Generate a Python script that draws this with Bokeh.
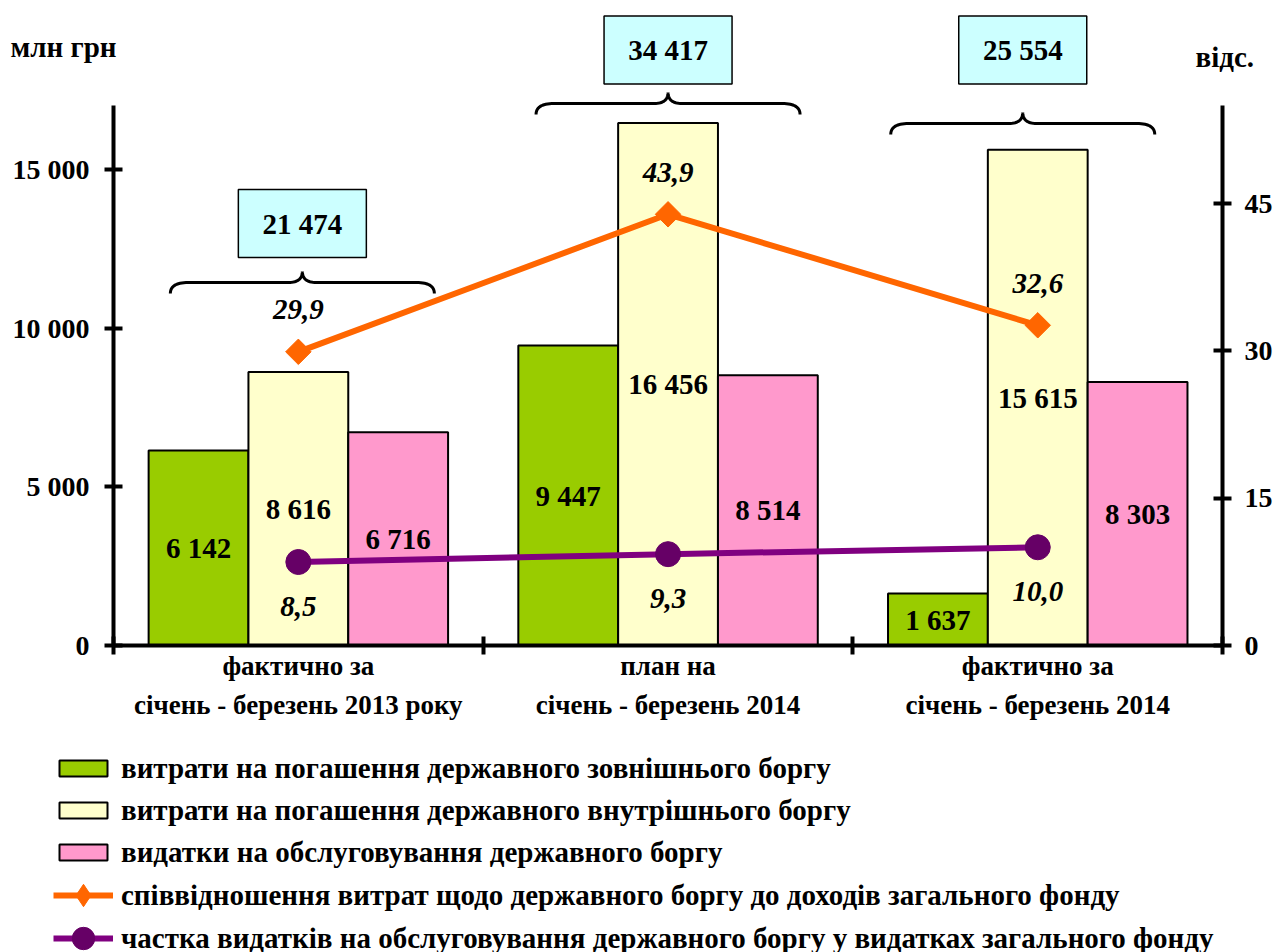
import numpy as np
from bokeh.plotting import figure
from bokeh.models import Range1d, LinearAxis, FixedTicker, Legend, LegendItem
from bokeh.core.properties import value
from bokeh.embed import file_html
from bokeh.resources import INLINE

# ---------------- data ----------------
periods = ["фактично за\nсічень - березень 2013 року",
           "план на\nсічень - березень 2014",
           "фактично за\nсічень - березень 2014"]
external_debt = [6142, 9447, 1637]
internal_debt = [8616, 16456, 15615]
debt_service = [6716, 8514, 8303]
totals = [21474, 34417, 25554]
ratio_to_revenue = [29.9, 43.9, 32.6]
service_share = [8.5, 9.3, 10.0]
left_ticks = [0, 5000, 10000, 15000]
right_ticks = [0, 15, 30, 45]
series_names = ["витрати на погашення державного зовнішнього боргу",
                "витрати на погашення державного внутрішнього боргу",
                "видатки на обслуговування державного боргу",
                "співвідношення витрат щодо державного боргу до доходів загального фонду",
                "частка видатків на обслуговування державного боргу у видатках загального фонду"]
unit_left = "млн грн"
unit_right = "відс."

# ---------------- geometry (page pixels) ----------------
FONT = "Liberation Serif"
W, H = 1277, 952
M = 0                      # offset of the canvas in the picture
X0 = 113.0                 # page x of category 0
UX = 369.7                 # px per category
Y0 = 645.0                 # page y of value 0
PYL = 0.03175              # px per left unit
PYR = 442.0 / 45.0         # px per right unit

x_start = (M - X0) / UX
x_end = (M + W - X0) / UX
yl_end = (Y0 - M) / PYL
yl_start = (Y0 - M - H) / PYL
yr_end = (Y0 - M) / PYR
yr_start = (Y0 - M - H) / PYR

LEFT_BOUND = 17000
RIGHT_BOUND = LEFT_BOUND * PYL / PYR
BAR_W = 0.27

def px_x(xp):   # page x -> data x
    return (xp - X0) / UX

def px_y(yp):   # page y -> left data y
    return (Y0 - yp) / PYL

BRACE_Y = [px_y(282), px_y(103), px_y(123)]
BOX_Y = [px_y(223), px_y(49.5), px_y(49.5)]
ANNOT_DX = [4 / UX, 0.0, -15 / UX]    # horizontal shift of braces/boxes

def fmt(v):
    return f"{v:,}".replace(",", " ")

def fmt_dec(v):
    return f"{v:.1f}".replace(".", ",")

p = figure(width=W, height=H, x_range=Range1d(x_start, x_end), y_range=Range1d(yl_start, yl_end),
           output_backend="svg", toolbar_location=None,
           min_border_left=0, min_border_right=0, min_border_top=0, min_border_bottom=0)
p.extra_y_ranges = {"right": Range1d(yr_start, yr_end)}
p.outline_line_color = None
p.xgrid.visible = False
p.ygrid.visible = False
p.background_fill_color = "white"
p.border_fill_color = "white"

def style_axis(ax, size="28px"):
    ax.axis_line_width = 4
    ax.major_tick_line_width = 4
    ax.minor_tick_line_width = 4
    ax.major_label_text_font = FONT
    ax.major_label_text_font_style = "bold"
    ax.major_label_text_font_size = size
    ax.major_label_text_color = "black"

# left axis
ya = p.yaxis[0]
ya.fixed_location = 0
ya.ticker = FixedTicker(ticks=left_ticks)
ya.major_label_overrides = {t: fmt(t) for t in left_ticks}
ya.bounds = (0, LEFT_BOUND)
ya.major_tick_in = 9
ya.major_tick_out = 9
ya.minor_tick_line_color = None
ya.major_label_standoff = 15
style_axis(ya)

# right axis
ra = LinearAxis(y_range_name="right", ticker=FixedTicker(ticks=right_ticks), bounds=(0, RIGHT_BOUND))
ra.fixed_location = 3
ra.major_tick_in = 9
ra.major_tick_out = 9
ra.minor_tick_line_color = None
ra.major_label_standoff = 13
style_axis(ra)
p.add_layout(ra, "right")

# x axis
xa = p.xaxis[0]
xa.fixed_location = 0
xa.bounds = (0, 3)
centers = [i + 0.5 for i in range(len(periods))]
xa.ticker = FixedTicker(ticks=centers, minor_ticks=list(range(len(periods) + 1)))
xa.major_label_overrides = {c: lab for c, lab in zip(centers, periods)}
xa.major_tick_in = 0
xa.major_tick_out = 0
xa.minor_tick_in = 9
xa.minor_tick_out = 9
xa.major_label_standoff = -4
style_axis(xa, "27px")
xa.major_label_text_line_height = 1.3

# bars
cols = ["#99CC00", "#FFFFCC", "#FF99CC"]
bar_r = []
for k, (vals, col) in enumerate(zip([external_debt, internal_debt, debt_service], cols)):
    xs = [c + (k - 1) * BAR_W for c in centers]
    r = p.vbar(x=xs, top=vals, width=BAR_W, fill_color=col, line_color="black", line_width=2)
    bar_r.append(r)
    p.text(x=xs, y=[v / 2 for v in vals], text=[fmt(v) for v in vals],
           text_font=value(FONT), text_font_style="bold", text_font_size="29px",
           text_align="center", text_baseline="middle", text_color="black")

# lines
ol = p.line(centers, ratio_to_revenue, y_range_name="right", line_color="#FF6600", line_width=6)
om_leg = p.scatter(centers, ratio_to_revenue, y_range_name="right", marker="diamond",
                   size=18, fill_color="#FF6600", line_color="#FF6600")
om = p.scatter(centers, ratio_to_revenue, y_range_name="right", marker="square", angle=np.pi / 4,
               size=18, fill_color="#FF6600", line_color="#FF6600")
p.text(x=centers, y=ratio_to_revenue, y_range_name="right", y_offset=-42,
       text=[fmt_dec(v) for v in ratio_to_revenue], text_font=value(FONT),
       text_font_style="bold italic", text_font_size="29px", text_align="center",
       text_baseline="middle", text_color="black")

pl = p.line(centers, service_share, y_range_name="right", line_color="#800080", line_width=6)
pm = p.scatter(centers, service_share, y_range_name="right", marker="circle", size=25,
               fill_color="#660066", line_color="#660066")
p.text(x=centers, y=service_share, y_range_name="right", y_offset=44,
       text=[fmt_dec(v) for v in service_share], text_font=value(FONT),
       text_font_style="bold italic", text_font_size="29px", text_align="center",
       text_baseline="middle", text_color="black")

# braces
def brace(xc, y0):
    ux = 1.0 / UX
    uy = 1.0 / PYL
    def qb(p0, p1, p2, n=16):
        t = np.linspace(0, 1, n)[:, None]
        return (1 - t) ** 2 * np.array(p0) + 2 * (1 - t) * t * np.array(p1) + t ** 2 * np.array(p2)
    half = 132
    segs = [qb((-half, -11), (-half, 0), (-half + 18, 0)),
            qb((-half + 18, 0), (-60, 0), (-14, 0), 2),
            qb((-14, 0), (0, 0), (0, 11)),
            qb((0, 11), (0, 0), (14, 0)),
            qb((14, 0), (60, 0), (half - 18, 0), 2),
            qb((half - 18, 0), (half, 0), (half, -11))]
    pts = np.vstack(segs)
    return list(xc + pts[:, 0] * ux), list(y0 + pts[:, 1] * uy)

acx = [c + d for c, d in zip(centers, ANNOT_DX)]
bx, by = [], []
for c, yb in zip(acx, BRACE_Y):
    xx, yy = brace(c, yb)
    bx.append(xx)
    by.append(yy)
p.multi_line(bx, by, line_color="black", line_width=3)

p.rect(x=acx, y=BOX_Y, width=128, height=68, width_units="screen", height_units="screen",
       fill_color="#CCFFFF", line_color="black", line_width=1.5)
p.text(x=acx, y=BOX_Y, text=[fmt(v) for v in totals], text_font=value(FONT),
       text_font_style="bold", text_font_size="29px", text_align="center",
       text_baseline="middle", text_color="black")

# unit labels
p.text(x=[px_x(10), px_x(1195)], y=[px_y(46), px_y(56)], text=[unit_left, unit_right],
       text_font=value(FONT), text_font_style="bold", text_font_size="29px",
       text_align="left", text_baseline="middle", text_color="black")

# legends
common = dict(orientation="vertical", glyph_width=60, label_height=34,
              label_standoff=8, padding=0, margin=0,
              border_line_color=None, background_fill_alpha=0,
              label_text_font=FONT, label_text_font_style="bold",
              label_text_font_size="29px", label_text_color="black")
bar_items = [LegendItem(label=series_names[k], renderers=[bar_r[k]]) for k in range(3)]
leg1 = Legend(items=bar_items, location=(53, H - 869), glyph_height=20, spacing=8, **common)
leg2 = Legend(items=[LegendItem(label=series_names[3], renderers=[ol, om_leg])],
              location=(53, H - 923), glyph_height=56, spacing=0, **common)
leg3 = Legend(items=[LegendItem(label=series_names[4], renderers=[pl, pm])],
              location=(53, H - 966), glyph_height=56, spacing=0, **common)
p.add_layout(leg1)
p.add_layout(leg2)
p.add_layout(leg3)

open("out.html", "w").write(file_html(p, INLINE))
